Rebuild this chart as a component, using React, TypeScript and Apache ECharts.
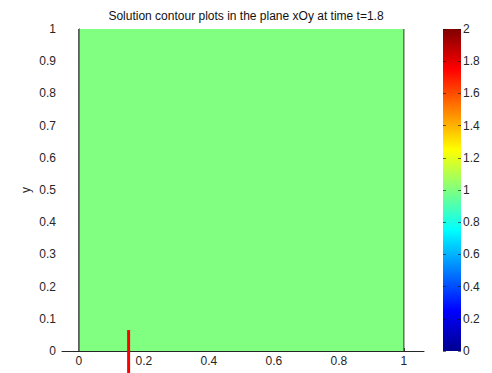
import React, { useEffect, useRef } from "react";
import * as echarts from "echarts";

// Domain and solution field at t = 1.8
const domainX = [0, 1];
const domainY = [0, 1];
const fieldValue = 1;
const colorRange = [0, 2];

// Probe segment drawn in red
const probeX = [0.153, 0.153];
const probeY = [-0.07, 0.065];

// Tick labels
const xTicks = [0, 0.2, 0.4, 0.6, 0.8, 1];
const yTicks = [0, 0.1, 0.2, 0.3, 0.4, 0.5, 0.6, 0.7, 0.8, 0.9, 1];
const cbTicks = [0, 0.2, 0.4, 0.6, 0.8, 1, 1.2, 1.4, 1.6, 1.8, 2];

// MATLAB "jet" colormap stops
const jetStops = [
  { offset: 0, color: "#00008F" },
  { offset: 0.125, color: "#0000FF" },
  { offset: 0.375, color: "#00FFFF" },
  { offset: 0.625, color: "#FFFF00" },
  { offset: 0.875, color: "#FF0000" },
  { offset: 1, color: "#800000" },
];

function hexToRgb(h: string) {
  return [1, 3, 5].map((i) => parseInt(h.slice(i, i + 2), 16));
}

function jet(v: number) {
  const t = Math.min(1, Math.max(0, (v - colorRange[0]) / (colorRange[1] - colorRange[0])));
  for (let i = 1; i < jetStops.length; i++) {
    const a = jetStops[i - 1];
    const b = jetStops[i];
    if (t <= b.offset) {
      const f = (t - a.offset) / (b.offset - a.offset);
      const ca = hexToRgb(a.color);
      const cb = hexToRgb(b.color);
      const c = ca.map((x, k) => Math.round(x + (cb[k] - x) * f));
      return `rgb(${c[0]},${c[1]},${c[2]})`;
    }
  }
  return jetStops[jetStops.length - 1].color;
}

const FONT = "'Liberation Sans', Arial, sans-serif";
const TXT = "#262626";

export default function App() {
  const ref = useRef<HTMLDivElement>(null);

  useEffect(() => {
    if (!ref.current) return;
    const chart = echarts.init(ref.current, null, { renderer: "svg" });
    const labelStyle = { fontFamily: FONT, fontSize: 12, color: TXT };
    const fillColor = jet(fieldValue);

    chart.setOption({
      animation: false,
      backgroundColor: "#ffffff",
      title: {
        text: "Solution contour plots in the plane xOy at time t=1.8",
        left: 241,
        textAlign: "center",
        top: 5,
        textStyle: { fontFamily: FONT, fontSize: 12, fontWeight: "normal", color: "#111" },
      },
      grid: [
        { left: 62, top: 29, width: 362, height: 322 },
        { left: 443, top: 29, width: 18, height: 322 },
      ],
      xAxis: [
        {
          type: "value",
          gridIndex: 0,
          min: -0.052,
          max: 1.062,
          splitLine: { show: false },
          axisLine: { show: true, lineStyle: { color: TXT, width: 1 } },
          axisTick: { show: true, inside: true, length: 3, customValues: xTicks, lineStyle: { color: TXT } },
          axisLabel: { ...labelStyle, margin: 4, customValues: xTicks, formatter: (v: number) => String(v) },
        },
        {
          type: "category",
          gridIndex: 1,
          data: ["c"],
          show: false,
        },
      ],
      yAxis: [
        {
          type: "value",
          gridIndex: 0,
          min: 0,
          max: 1,
          name: "y",
          nameLocation: "middle",
          nameGap: 30,
          nameMoveOverlap: false,
          nameRotate: 90,
          nameTextStyle: { fontFamily: FONT, fontSize: 12, color: TXT },
          splitLine: { show: false },
          axisLine: { show: true, lineStyle: { color: TXT, width: 1 } },
          axisTick: { show: true, inside: true, length: 3, customValues: yTicks, lineStyle: { color: TXT } },
          axisLabel: { ...labelStyle, margin: 6, customValues: yTicks, formatter: (v: number) => String(v) },
        },
        {
          type: "value",
          gridIndex: 1,
          position: "right",
          min: colorRange[0],
          max: colorRange[1],
          z: 5,
          splitLine: { show: false },
          axisLine: { show: false },
          axisTick: { show: true, inside: true, length: 3, customValues: cbTicks, lineStyle: { color: "#111", opacity: 0.6 } },
          axisLabel: { ...labelStyle, margin: 2, customValues: cbTicks, formatter: (v: number) => String(v) },
        },
        {
          type: "value",
          gridIndex: 1,
          position: "left",
          min: colorRange[0],
          max: colorRange[1],
          z: 5,
          splitLine: { show: false },
          axisLine: { show: false },
          axisTick: { show: true, inside: true, length: 3, customValues: cbTicks, lineStyle: { color: "#111", opacity: 0.6 } },
          axisLabel: { show: false },
        },
      ],
      series: [
        {
          // uniform solution field over the unit square
          type: "line",
          xAxisIndex: 0,
          yAxisIndex: 0,
          data: [
            [domainX[0], domainY[1]],
            [domainX[1], domainY[1]],
          ],
          symbol: "none",
          lineStyle: { width: 0 },
          areaStyle: { color: fillColor, opacity: 1, origin: "start" },
          z: 1,
        },
        {
          // domain boundaries x = 0 and x = 1
          type: "line",
          xAxisIndex: 0,
          yAxisIndex: 0,
          data: [
            [domainX[0], domainY[0]],
            [domainX[0], domainY[1]],
          ],
          symbol: "none",
          lineStyle: { color: "#1a1a1a", width: 1.2 },
          z: 3,
        },
        {
          type: "line",
          xAxisIndex: 0,
          yAxisIndex: 0,
          data: [
            [domainX[1], domainY[0]],
            [domainX[1], domainY[1]],
          ],
          symbol: "none",
          lineStyle: { color: "#3d5a3d", width: 1.2 },
          z: 3,
        },
        {
          type: "line",
          xAxisIndex: 0,
          yAxisIndex: 0,
          clip: false,
          data: [
            [probeX[0], probeY[0]],
            [probeX[1], probeY[1]],
          ],
          symbol: "none",
          lineStyle: { color: "#ff0000", width: 3 },
          z: 5,
        },
        {
          // colorbar
          type: "bar",
          xAxisIndex: 1,
          yAxisIndex: 1,
          data: [colorRange[1]],
          barWidth: "100%",
          itemStyle: {
            color: new echarts.graphic.LinearGradient(0, 1, 0, 0, jetStops),
          },
          z: 1,
        },
      ],
    });

    return () => chart.dispose();
  }, []);

  return (
    <div
      ref={ref}
      style={{ position: "fixed", left: 0, top: 0, width: 492, height: 373, background: "#fff" }}
    />
  );
}
